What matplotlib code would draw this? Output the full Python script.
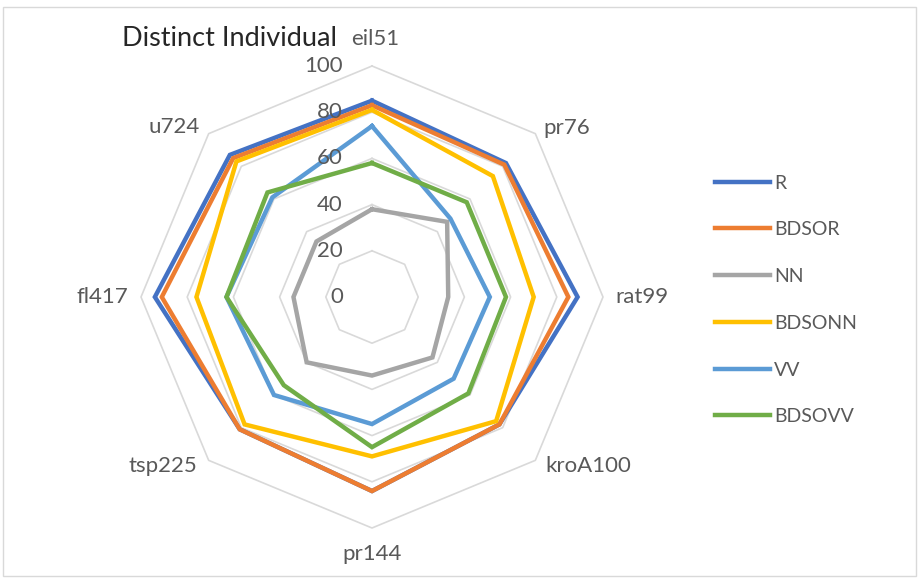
import numpy as np
import matplotlib
matplotlib.use('Agg')
import matplotlib.pyplot as plt
from matplotlib.patches import Rectangle

plt.rcParams['font.family'] = ['Lato', 'DejaVu Sans']

categories = ['eil51', 'pr76', 'rat99', 'kroA100', 'pr144', 'tsp225', 'fl417', 'u724']
r_vals = [85, 82, 89, 78, 84, 81, 94, 87]
bdsor_vals = [83, 81, 85, 78, 84, 81, 91, 85]
nn_vals = [38, 46, 33, 37, 34, 40, 34, 34]
bdsonn_vals = [81, 74, 70, 76, 69, 78, 76, 83]
vv_vals = [74, 48, 51, 50, 55, 60, 63, 61]
bdsovv_vals = [58, 58, 58, 59, 65, 54, 63, 64]
rings = [20, 40, 60, 80, 100]
ring_labels = ['0', '20', '40', '60', '80', '100']

series = [
	('R', r_vals, '#4472C4'),
	('BDSOR', bdsor_vals, '#ED7D31'),
	('NN', nn_vals, '#A5A5A5'),
	('BDSONN', bdsonn_vals, '#FFC000'),
	('VV', vv_vals, '#5B9BD5'),
	('BDSOVV', bdsovv_vals, '#70AD47'),
]

text_col = '#595959'
fs = 16

fig = plt.figure(figsize=(9.19, 5.78), dpi=100)
ax = fig.add_axes([141 / 919, 50 / 578, 462 / 919, 462 / 578], projection='polar')
ax.set_theta_offset(np.pi / 2)
ax.set_theta_direction(-1)
ax.set_ylim(0, 100)
ax.grid(False)
ax.spines['polar'].set_visible(False)
ax.set_xticks([])
ax.set_yticks([])

theta = np.linspace(0, 2 * np.pi, len(categories), endpoint=False)
closed = np.append(theta, theta[0])

# octagon gridlines
for r in rings:
	ax.plot(closed, [r] * len(closed), color='#d9d9d9', lw=1.2, clip_on=False, zorder=1)

for name, vals, col in series:
	ax.plot(closed, vals + vals[:1], color=col, lw=3.2, label=name,
			clip_on=False, solid_joinstyle='miter', zorder=3)

# radial value labels to the left of the top spoke
for i, lab in enumerate(ring_labels):
	ax.annotate(lab, xy=(0, i * 20), xytext=(-29, 0), textcoords='offset pixels',
				ha='right', va='center', fontsize=fs, color=text_col, zorder=4)

# category labels around the outside
label_pos = {
	'eil51': ('center', 'bottom', 3, 17),
	'pr76': ('left', 'center', 8, 6),
	'rat99': ('left', 'center', 12, 0),
	'kroA100': ('left', 'center', 10, -6),
	'pr144': ('center', 'top', 0, -16),
	'tsp225': ('right', 'center', -11, -6),
	'fl417': ('right', 'center', -13, 0),
	'u724': ('right', 'center', -9, 7),
}
for t, cat in zip(theta, categories):
	ha, va, dx, dy = label_pos[cat]
	ax.annotate(cat, xy=(t, 100), xytext=(dx, dy), textcoords='offset pixels',
				ha=ha, va=va, fontsize=fs, color=text_col, annotation_clip=False)

fig.text(122 / 919, 1 - 39 / 578, 'Distinct Individual', ha='left', va='center',
		 fontsize=19.5, color='#262626')

fig.legend(loc='upper left', bbox_to_anchor=(697 / 919, 1 - 157 / 578), frameon=False,
		   fontsize=14, labelcolor=text_col, handlelength=2.85, handletextpad=0.2,
		   labelspacing=1.53)

fig.patches.append(Rectangle((0.003, 0.003), 0.994, 0.985, transform=fig.transFigure,
							 fill=False, edgecolor='#d9d9d9', lw=1))

fig.savefig('out.png', dpi=100)
